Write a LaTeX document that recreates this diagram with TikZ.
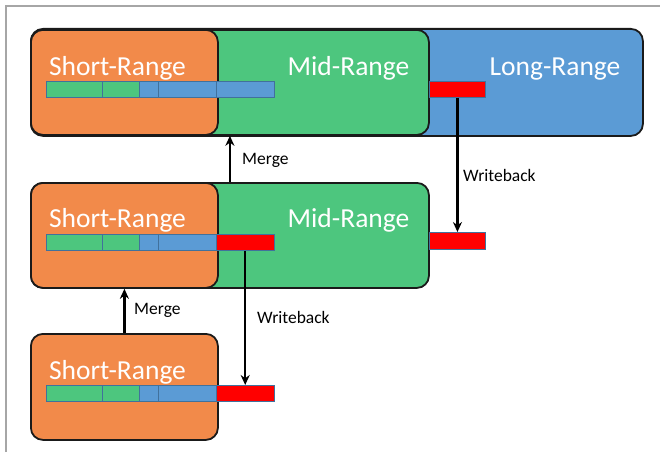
\documentclass[tikz,border=0pt]{standalone}
\usepackage{fontspec}
\setmainfont{Carlito}
\usetikzlibrary{arrows.meta}
\definecolor{cOrange}{HTML}{F28A4A}
\definecolor{cGreen}{HTML}{4DC67E}
\definecolor{cBlue}{HTML}{5B9BD5}
\definecolor{cRed}{HTML}{FF0000}
\definecolor{cCellBorder}{HTML}{41719C}
\definecolor{cFrame}{HTML}{A6A6A6}
\definecolor{cEdge}{HTML}{1A1A1A}
\begin{document}
\begin{tikzpicture}[x=1pt,y=-1pt,
  box/.style={draw=cEdge, line width=1.8pt, rounded corners=12pt, anchor=north west, inner sep=0pt},
  cell/.style={draw=cCellBorder, line width=0.9pt, anchor=north west, inner sep=0pt, minimum height=16pt},
  big/.style={text=white, font=\fontsize{27.5}{30}\selectfont, anchor=base, inner sep=0pt},
  lbl/.style={font=\fontsize{17.5}{20}\selectfont, anchor=west, inner sep=0pt},
  arr/.style={-{Stealth[length=10pt,width=9pt]}, line width=2.3pt}]
\useasboundingbox (0,0) rectangle (660,452);
\draw[cFrame, line width=2pt] (6,452) -- (6,6) -- (660,6);

% ---- top row
\node[box, fill=cBlue, minimum width=612pt, minimum height=107pt] (long1) at (30,28) {};
\node[box, fill=cGreen, minimum width=398pt, minimum height=105pt] (mid1) at (30,29) {};
\node[box, fill=cOrange, minimum width=187pt, minimum height=105pt] (short1) at (30,29) {};
\node[big] (tshort1) at (117.5,75) {Short-Range};
\node[big] (tmid1) at (348.5,75) {Mid-Range};
\node[big] (tlong1) at (555,75) {Long-Range};
\node[cell, fill=cGreen, minimum width=56.5pt] (c11) at (45.5,81) {};
\node[cell, fill=cGreen, minimum width=37pt] (c12) at (102,81) {};
\node[cell, fill=cBlue, minimum width=19pt] (c13) at (139,81) {};
\node[cell, fill=cBlue, minimum width=58pt] (c14) at (158,81) {};
\node[cell, fill=cBlue, minimum width=57.5pt] (c15) at (216,81) {};
\node[cell, fill=cRed, minimum width=56pt] (r1) at (429,81) {};

% ---- middle row
\node[box, fill=cGreen, minimum width=398pt, minimum height=105pt] (mid2) at (30,182) {};
\node[box, fill=cOrange, minimum width=187pt, minimum height=105pt] (short2) at (30,182) {};
\node[big] (tshort2) at (117.5,227) {Short-Range};
\node[big] (tmid2) at (348.5,227) {Mid-Range};
\node[cell, fill=cGreen, minimum width=56.5pt] (c21) at (45.5,234) {};
\node[cell, fill=cGreen, minimum width=37pt] (c22) at (102,234) {};
\node[cell, fill=cBlue, minimum width=19pt] (c23) at (139,234) {};
\node[cell, fill=cBlue, minimum width=58pt] (c24) at (158,234) {};
\node[cell, fill=cRed, minimum width=57.5pt] (c25) at (216,234) {};
\node[cell, fill=cRed, minimum width=56pt, minimum height=17pt] (rR) at (429,232) {};

% ---- bottom row
\node[box, fill=cOrange, minimum width=187pt, minimum height=106pt] (short3) at (30,333) {};
\node[big] (tshort3) at (117.5,379) {Short-Range};
\node[cell, fill=cGreen, minimum width=56.5pt] (c31) at (45.5,385) {};
\node[cell, fill=cGreen, minimum width=37pt] (c32) at (102,385) {};
\node[cell, fill=cBlue, minimum width=19pt] (c33) at (139,385) {};
\node[cell, fill=cBlue, minimum width=58pt] (c34) at (158,385) {};
\node[cell, fill=cRed, minimum width=57.5pt] (c35) at (216,385) {};

% ---- connectors
\draw[arr] (mid2.north) -- (mid1.south);
\draw[arr] (short3.north) -- (short2.south);
\draw[arr] (r1.south) -- (rR.north);
\draw[arr] (c25.south) -- (c35.north);

\node[lbl] (m1) at (242,160) {Merge};
\node[lbl] (w1) at (463,175) {Writeback};
\node[lbl] (m2) at (134,310) {Merge};
\node[lbl] (w2) at (257,317) {Writeback};
\end{tikzpicture}
\end{document}
